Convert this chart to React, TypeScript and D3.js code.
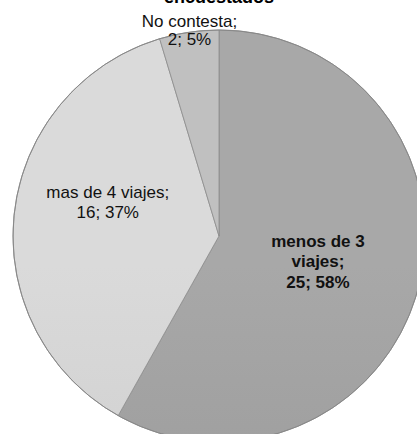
import React from "react";
import * as d3 from "d3";

const categories = ["menos de 3 viajes", "mas de 4 viajes", "No contesta"];
const values = [25, 16, 2];
const percents = ["58%", "37%", "5%"];
const titleLines = ["encuestados"];

const W = 417;
const H = 434;
const cx = 219;
const cy = 236;
const R = 206;

const fillTop = ["#a8a8a8", "#dadada", "#c0c0c0"];
const fillBottom = ["#969696", "#c9c9c9", "#b5b5b5"];
const labelStyle = [
  { r: 102, bold: true, lines: (i: number) => ["menos de 3", "viajes;", `${values[i]}; ${percents[i]}`], lh: 20.5, dy: -14 },
  { r: 116, bold: false, lines: (i: number) => ["mas de 4 viajes;", `${values[i]}; ${percents[i]}`], lh: 20, dy: -5 },
  { r: 212, bold: false, lines: (i: number) => ["No contesta;", `${values[i]}; ${percents[i]}`], lh: 18, dy: 1 },
];
const labelAngleDeg = [104, 286.5, 352];

export default function App() {
  const pie = d3.pie<number>().sort(null).value((d) => d)(values);
  const arc = d3.arc<d3.PieArcDatum<number>>().innerRadius(0).outerRadius(R);

  return (
    <svg width={W} height={H} style={{ position: "absolute", left: 0, top: 0, background: "#fff" }}
      fontFamily="'Liberation Sans', Arial, sans-serif">
      <defs>
        {categories.map((c, i) => (
          <linearGradient key={c} id={`g${i}`} gradientUnits="userSpaceOnUse" x1={0} y1={cy - R} x2={0} y2={cy + R}>
            <stop offset="0%" stopColor={fillTop[i]} />
            <stop offset="100%" stopColor={fillBottom[i]} />
          </linearGradient>
        ))}
      </defs>
      <text x={cx} y={3} textAnchor="middle" fontWeight="bold" fontSize={18} fill="#000">
        {titleLines[0]}
      </text>
      <g transform={`translate(${cx},${cy})`}>
        {pie.map((p, i) => (
          <path key={categories[i]} d={arc(p) || ""} fill={`url(#g${i})`} stroke="#8c8c8c" strokeWidth={0.8} />
        ))}
        <circle r={R} fill="none" stroke="#888" strokeWidth={1} />
        {pie.map((p, i) => {
          const ls = labelStyle[i];
          const a = (labelAngleDeg[i] * Math.PI) / 180;
          const x = ls.r * Math.sin(a);
          const y = -ls.r * Math.cos(a);
          const lines = ls.lines(i);
          return (
            <text key={"l" + i} x={x} y={y + ls.dy} textAnchor="middle" fontSize={17}
              fontWeight={ls.bold ? "bold" : "normal"} fill="#111">
              {lines.map((t, j) => (
                <tspan key={j} x={x} dy={j === 0 ? 0 : ls.lh}>{t}</tspan>
              ))}
            </text>
          );
        })}
      </g>
    </svg>
  );
}
